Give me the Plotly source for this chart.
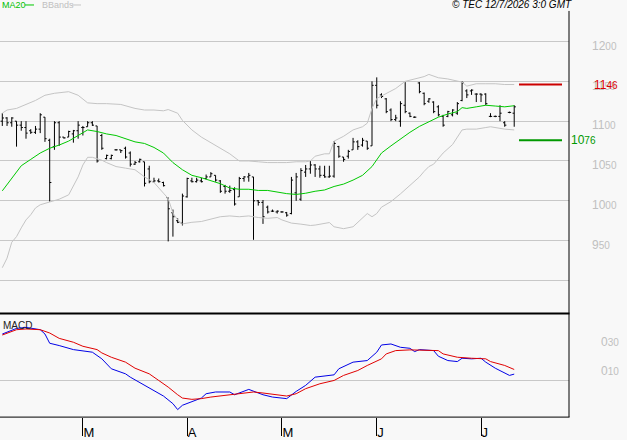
import plotly.graph_objects as go

# ---------------- data ----------------
opens = [1100,1104,1098,1100,1095,1092,1088,1086,1090,1105,
         1076,1068,1098,1080,1080,1084,1088,1092,1093,1098,
         1094,1082,1053,1053,1064,1064,1066,1060,1046,1049,
         1049,1040,1024,1025,1023,1004,985,975,972,1005,
         1025,1024,1025,1028,1030,1032,1025,1018,1012,1014,
         1005,1028,1030,1030,1000,998,992,987,986,986,
         985,984,1010,1002,1036,1040,1045,1040,1032,1030,
         1031,1068,1055,1056,1064,1074,1070,1075,1069,1145,
         1133,1128,1114,1102,1100,1120,1110,1105,1148,1135,
         1125,1124,1118,1106,1106,1108,1110,1126,1138,1138,
         1134,1134,1134,1106,1106,1106,1098,1111,1110]
highs = [1110,1105,1105,1100,1100,1100,1090,1094,1110,1105,
         1078,1100,1100,1080,1088,1089,1100,1094,1100,1100,
         1094,1084,1058,1058,1065,1064,1068,1062,1050,1053,
         1049,1044,1029,1028,1024,1004,989,978,1009,1029,
         1029,1029,1029,1033,1036,1032,1026,1020,1019,1017,
         1030,1031,1035,1030,1001,1001,994,989,988,987,
         986,1030,1035,1041,1045,1050,1046,1044,1044,1044,
         1075,1069,1055,1064,1079,1076,1079,1075,1150,1155,
         1135,1129,1116,1108,1125,1149,1111,1106,1149,1136,
         1129,1125,1120,1108,1113,1115,1124,1150,1140,1140,
         1135,1135,1135,1110,1107,1120,1100,1112,1120]
lows = [1094,1094,1093,1068,1088,1078,1084,1084,1085,1074,
        999,1064,1069,1078,1080,1073,1078,1082,1093,1094,
        1048,1064,1052,1052,1063,1060,1053,1043,1045,1048,
        1018,1022,1023,1023,1018,949,955,972,969,1004,
        1023,1023,1023,1027,1030,1024,1010,1009,1010,994,
        1005,1024,1024,951,994,971,984,986,984,985,
        980,983,1000,1000,1030,1034,1030,1029,1029,1029,
        1029,1054,1049,1053,1064,1064,1068,1064,1069,1116,
        1129,1110,1100,1100,1093,1110,1105,1104,1135,1120,
        1123,1110,1106,1093,1105,1106,1108,1125,1129,1133,
        1124,1124,1120,1105,1105,1100,1093,1110,1093]
closes = [1104,1098,1104,1095,1092,1085,1086,1090,1108,1078,
          1023,1098,1080,1079,1087,1088,1095,1092,1098,1095,
          1050,1066,1057,1057,1064,1063,1055,1046,1048,1052,
          1022,1024,1025,1024,1019,990,980,973,1006,1028,
          1024,1026,1024,1030,1034,1026,1012,1012,1013,996,
          1028,1030,1032,1000,998,980,986,987,987,986,
          982,1026,1030,1038,1040,1045,1040,1032,1030,1031,
          1072,1056,1052,1062,1074,1068,1076,1066,1145,1120,
          1131,1112,1102,1104,1122,1112,1106,1105,1137,1122,
          1128,1112,1108,1095,1112,1114,1122,1148,1133,1139,
          1134,1133,1122,1106,1106,1110,1095,1111,1118]

ma20_idx = [0,2,4,6,8,10,12,14,16,18,20,22,24,26,28,30,32,34,36,38,40,42,44,46,48,50,
            52,54,56,58,60,62,64,66,68,70,72,74,76,78,80,82,84,86,88,90,92,94,96,97,98,
            100,102,104,106,108]
ma20_val = [1012.5,1028,1044,1052,1060,1066,1070,1075,1082,1089,1087,1084,1082,1078,1074,
            1072,1067,1060,1048,1039,1032,1029,1025,1021.5,1016,1014.5,1014.5,1013,1013,
            1011,1009,1008,1009.5,1012,1013.6,1018,1021,1026,1032,1043,1060,1069,1078,
            1086,1093.4,1099.6,1105,1109,1112,1117,1116,1118,1120,1119,1118,1119.4]

bb_up_idx = [0,1,3,5,7,9,11,14,16,18,20,22,25,28,30,32,34,35,37,38,40,42,44,46,48,50,52,
             54,56,58,60,62,64,65,66,68,69,70,72,74,76,77,78,79,81,83,85,87,89,90,92,94,
             96,97,98,100,102,104,106,108]
bb_up_val = [1110,1114,1116,1121,1126,1132.5,1135,1137,1132.5,1123,1122,1122,1121,1116,1114,
             1114,1113,1114.6,1110,1101,1089,1080,1073,1065,1059,1050,1050,1049,1048,1048,
             1048,1049,1049,1050,1056,1059,1059,1075,1081,1089,1093,1097.5,1116,1128.5,
             1134.7,1141,1150,1153,1156,1158.7,1154.5,1153,1150.4,1149,1144,1147,1147,1147,
             1146,1146]

bb_lo_idx = [0,1,2,3,4,5,6,7,8,10,12,14,16,17,18,19,21,22,24,26,28,30,32,34,35,36,37,38,
             39,40,42,44,46,48,50,52,54,56,58,59,61,63,65,66,68,69,70,72,74,76,77,78,79,80,
             82,84,86,88,89,90,91,93,95,97,98,100,102,103,105,106,108]
bb_lo_val = [916,928,948,955,966,976,982.5,991,995,999,1002,1007.5,1030,1045,1054.6,1054.6,
             1051,1048,1043,1041,1039,1030,1023,1009.6,1003,984.6,976,971,972,973,974,977,
             980,981,980,981,979,978,979,976,972,970.7,969,969.5,971.5,972.7,967.4,965,
             967.4,977.7,984,980,984,992,999,1008.7,1019,1030,1037,1043,1046,1060,1070.7,
             1089,1090,1090,1092,1093,1091,1090,1089]

macd_idx = [0,3,5,6,8,9,10,12,15,19,21,23,26,27,30,32,34,36,37,38,40,42,43,45,48,49,52,53,
            55,57,60,62,64,66,70,71,74,77,79,80,82,84,86,87,88,91,92,94,96,97,99,101,102,
            104,106,107,108]
macd_val = [32.4,36.3,37,36.3,35.4,32.4,26,24.4,21.6,19.8,15.2,8.3,4.8,2.5,-3.2,-6.7,-10.6,
            -15.9,-20,-17,-14.3,-12,-9,-7.8,-7.8,-9.7,-6,-7.4,-9.7,-11.3,-12.4,-7.4,-3.2,
            2.5,4.1,8.3,12.9,14,19.8,24.8,25.5,23.2,22.5,20.2,21.6,20.9,17,14,13.3,15.6,
            15.2,15.6,12.9,8.7,5.5,3.7,4.6]

signal_idx = [0,3,5,8,10,12,15,17,20,21,23,26,28,31,33,35,37,38,40,42,44,47,50,53,55,58,
              60,62,64,67,70,72,75,77,80,81,83,86,89,92,93,96,99,102,103,106,108]
signal_val = [31.7,35.4,35.9,35.4,33.1,29.4,26.7,23.9,21.6,19.3,16.3,12.9,8.7,4.8,0.2,-4.4,
              -9.7,-12,-12.9,-12.4,-11.3,-10.1,-9,-7.8,-8.5,-9.7,-10.6,-9,-5.5,-2.1,0.2,3.7,
              7.1,10.6,15.2,18.6,20.9,21.4,21.4,20.9,18.6,16.3,15.6,15.2,13.3,10.6,7.8]

month_idx = [17, 39, 59, 79, 101]
month_labels = ["M", "A", "M", "J", "J"]
price_ticks = [900, 950, 1000, 1050, 1100, 1150, 1200]
macd_ticks = [10, 30]
resistance_level = 1146
support_level = 1076

# ---------------- layout helpers ----------------
W, H = 627, 440
def fx(px):
    return px / W
def fy(py):
    return 1 - py / H

BG = "#f8f8f8"
GRID = "#c8c8c8"
LBL = "#c0c0c0"
NARROW = "Liberation Sans Narrow, Liberation Sans, Arial, sans-serif"
SANS = "Liberation Sans, Arial, sans-serif"

def split_label(s, small=10):
    return f"{s[:-2]}<span style='font-size:{small}px'>{s[-2:]}</span>"

price_text = ["" if v == 900 else split_label(str(v)) for v in price_ticks]
macd_text = [split_label(f"{v:03d}") for v in macd_ticks]

x = list(range(len(opens)))

fig = go.Figure()
band_line = dict(color="#c4c4c4", width=1)
fig.add_trace(go.Scatter(x=bb_up_idx, y=bb_up_val, mode="lines", line=band_line,
                         xaxis="x", yaxis="y", hoverinfo="skip"))
fig.add_trace(go.Scatter(x=bb_lo_idx, y=bb_lo_val, mode="lines", line=band_line,
                         xaxis="x", yaxis="y", hoverinfo="skip"))
fig.add_trace(go.Scatter(x=ma20_idx, y=ma20_val, mode="lines",
                         line=dict(color="#00c800", width=1), xaxis="x", yaxis="y"))
fig.add_trace(go.Ohlc(x=x, open=opens, high=highs, low=lows, close=closes,
                      increasing=dict(line=dict(color="black", width=1)),
                      decreasing=dict(line=dict(color="black", width=1)),
                      tickwidth=0.35, xaxis="x", yaxis="y"))
fig.add_trace(go.Scatter(x=macd_idx, y=macd_val, mode="lines",
                         line=dict(color="#0000e6", width=1), xaxis="x2", yaxis="y2"))
fig.add_trace(go.Scatter(x=signal_idx, y=signal_val, mode="lines",
                         line=dict(color="#e00000", width=1), xaxis="x2", yaxis="y2"))

x_range = [-0.485, 119.56]
shapes = [
    dict(type="line", xref="paper", yref="paper", x0=fx(569), x1=fx(569), y0=fy(11), y1=fy(419),
         line=dict(color="black", width=1)),
    dict(type="line", xref="paper", yref="paper", x0=0, x1=fx(569.5), y0=fy(315), y1=fy(315),
         line=dict(color="black", width=2)),
    dict(type="line", xref="paper", yref="paper", x0=0, x1=fx(569.5), y0=fy(419), y1=fy(419),
         line=dict(color="black", width=1)),
    dict(type="line", xref="paper", yref="paper", x0=fx(25), x1=fx(34), y0=fy(5), y1=fy(5),
         line=dict(color="#00c800", width=1)),
    dict(type="line", xref="paper", yref="paper", x0=fx(72), x1=fx(81), y0=fy(5), y1=fy(5),
         line=dict(color="#c4c4c4", width=1)),
    dict(type="line", xref="paper", yref="y", x0=fx(519), x1=fx(562),
         y0=resistance_level, y1=resistance_level, line=dict(color="#cc0000", width=2)),
    dict(type="line", xref="paper", yref="y", x0=fx(519), x1=fx(562),
         y0=support_level, y1=support_level, line=dict(color="#009900", width=2)),
]

annotations = [
    dict(text="MA20", xref="paper", yref="paper", x=fx(0), y=fy(5), xanchor="left",
         yanchor="middle", showarrow=False, font=dict(family=SANS, size=9, color="#00c000")),
    dict(text="BBands", xref="paper", yref="paper", x=fx(40), y=fy(5), xanchor="left",
         yanchor="middle", showarrow=False, font=dict(family=SANS, size=9, color="#c0c0c0")),
    dict(text="© TEC 12/7/2026 3:0 GMT", xref="paper", yref="paper", x=fx(574), y=fy(5),
         xanchor="right", yanchor="middle", showarrow=False,
         font=dict(family=SANS, size=10, color="black", style="italic")),
    dict(text="MACD", xref="paper", yref="paper", x=fx(1), y=fy(327), xanchor="left",
         yanchor="middle", showarrow=False, font=dict(family=SANS, size=10, color="#222222")),
    dict(text=split_label(str(resistance_level)), xref="paper", yref="y", x=fx(592),
         y=resistance_level, xanchor="left", yanchor="middle", showarrow=False,
         font=dict(family=SANS, size=12, color="#dd0000")),
    dict(text=split_label(str(support_level)), xref="paper", yref="y", x=fx(569),
         y=support_level, xanchor="left", yanchor="middle", showarrow=False,
         font=dict(family=SANS, size=12, color="#009900")),
]

fig.update_layout(
    width=W, height=H, autosize=False, margin=dict(l=0, r=0, t=0, b=0, pad=0),
    paper_bgcolor=BG, plot_bgcolor=BG, showlegend=False,
    shapes=shapes, annotations=annotations,
    xaxis=dict(domain=[0, fx(569)], range=x_range, anchor="y", showticklabels=False,
               showgrid=False, zeroline=False, showline=False, ticks="",
               rangeslider=dict(visible=False), fixedrange=True),
    yaxis=dict(domain=[fy(313), fy(11)], range=[860.9, 1238.4], side="right", anchor="x",
               tickvals=price_ticks, ticktext=price_text, showgrid=True, gridcolor=GRID,
               gridwidth=1, zeroline=False, showline=False, ticks="",
               ticklabelstandoff=22, ticklabelshift=4,
               tickfont=dict(family=SANS, size=12, color=LBL)),
    xaxis2=dict(domain=[0, fx(569)], range=x_range, anchor="y2", matches="x",
                tickvals=month_idx, ticktext=month_labels, ticks="outside", ticklen=18,
                tickcolor="black", tickwidth=1, ticklabelposition="outside right",
                ticklabelstandoff=3, showgrid=False, zeroline=False, showline=False,
                tickfont=dict(family=NARROW, size=13, color="black")),
    yaxis2=dict(domain=[fy(419), fy(317)], range=[-25.2, 45.2], side="right", anchor="x2",
                tickvals=macd_ticks, ticktext=macd_text, showgrid=False, zeroline=True,
                zerolinecolor=GRID, zerolinewidth=1, showline=False, ticks="",
                ticklabelstandoff=31, ticklabelshift=4,
                tickfont=dict(family=SANS, size=12, color=LBL)),
)

fig.write_html("out.html")
